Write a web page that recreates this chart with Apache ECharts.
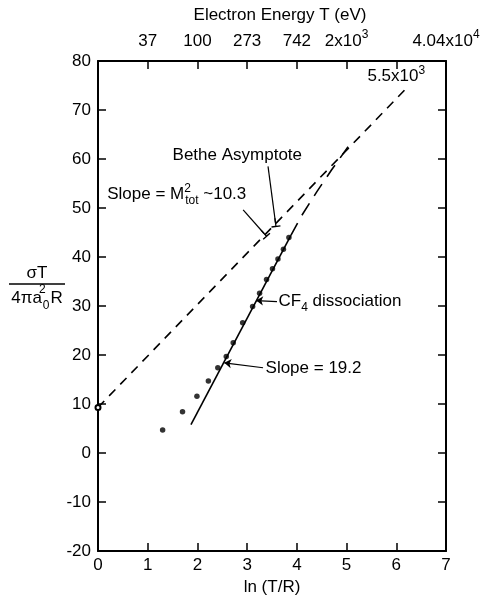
<!DOCTYPE html>
<html>
<head>
<meta charset="utf-8">
<title>CF4 dissociation - Fano plot</title>
<script src="https://cdn.jsdelivr.net/npm/echarts@6/dist/echarts.min.js"></script>
<style>
  html, body { margin: 0; padding: 0; background: #fff; }
  #chart { width: 491px; height: 601px; }
</style>
</head>
<body>
<div id="chart"></div>
<script>
// measured data points (ln(T/R), sigma*T / 4 pi a0^2 R)
const dotX = [1.30, 1.70, 1.99, 2.22, 2.41, 2.58, 2.72, 2.91, 3.11, 3.25, 3.39, 3.51, 3.62, 3.73, 3.84];
const dotY = [4.7, 8.4, 11.6, 14.7, 17.4, 19.7, 22.5, 26.6, 29.9, 32.6, 35.4, 37.6, 39.6, 41.6, 44.0];

// Bethe asymptote (dashed)
const betheX = [0, 6.21];
const betheY = [9.3, 74.5];

// slope 19.2 fit, solid part and dashed continuation
const fitSolidX = [1.87, 3.88];
const fitSolidY = [5.8, 44.4];
const fitDashX = [3.88, 4.1, 4.4, 4.7, 5.03];
const fitDashY = [44.4, 48.5, 53.3, 57.8, 62.5];

// tick labels
const bottomTickLabels = ['0', '1', '2', '3', '4', '5', '6', '7'];
const topTickLabels = ['', '37', '100', '273', '742', '2x10^3', '', '4.04x10^4'];
const yTicks = [-20, -10, 0, 10, 20, 30, 40, 50, 60, 70, 80];

const FONT = '"Liberation Sans", Arial, Helvetica, sans-serif';
const FS = 17;

function zip(xs, ys) {
    return xs.map((x, i) => [x, ys[i]]);
}

// text styles for rich labels (super/subscripts)
const rich = {
    t:    { fontSize: FS, fontFamily: FONT, color: '#000', lineHeight: 24 },
    sup:  { fontSize: 12, fontFamily: FONT, color: '#000', lineHeight: 12, verticalAlign: 'top' },
    supz: { fontSize: 12, fontFamily: FONT, color: '#000', lineHeight: 12, verticalAlign: 'top', width: 1 },
    sub:  { fontSize: 12, fontFamily: FONT, color: '#000', lineHeight: 12, verticalAlign: 'bottom' }
};

// "2x10^3" -> rich text with superscript
function supText(s) {
    if (!s) return '';
    const parts = s.split('^');
    if (parts.length === 1) return '{t|' + s + '}';
    return '{t|' + parts[0] + '}{sup|' + parts[1] + '}';
}

// annotations: text, anchor (data coords), label placement
const notes = [
    { text: '{t|Bethe Asymptote}', at: [1.49, 60.7], pos: 'right' },
    { text: '{t|Slope = M}{supz|2}{sub|tot}{t| ~10.3}', at: [0.175, 52.7], pos: 'right' },
    { text: '{t|CF}{sub|4}{t| dissociation}', at: [3.62, 30.9], pos: 'right' },
    { text: '{t|Slope = 19.2}', at: [3.36, 17.2], pos: 'right' },
    { text: '{t|5.5x10}{sup|3}', at: [6.0, 76.8], pos: 'inside' }
];

// arrows from the texts to the lines
const TBAR = 'path://M0,0 L10,0 L10,1.6 L5.7,1.6 L5.7,10 L4.3,10 L4.3,1.6 L0,1.6 Z';
const arrows = [
    { from: [3.42, 58.5], to: [3.57, 47.0], head: TBAR },
    { from: [2.92, 49.6], to: [3.34, 44.8], head: TBAR },
    { from: [3.60, 30.9], to: [3.18, 31.1], head: 'arrow' },
    { from: [3.32, 17.4], to: [2.54, 18.4], head: 'arrow' }
];

const chart = echarts.init(document.getElementById('chart'), null, { renderer: 'canvas' });

const axisLineStyle = { color: '#000', width: 2 };
const tickStyle = { color: '#000', width: 1.5 };

const option = {
    animation: false,
    backgroundColor: '#fff',
    grid: { left: 98, right: 45, top: 61, bottom: 43, containLabel: false },
    xAxis: [
        {
            type: 'value', position: 'bottom', min: 0, max: 7, interval: 1,
            name: 'ln (T/R)', nameLocation: 'middle', nameGap: 28,
            nameTextStyle: { fontSize: FS, fontFamily: FONT, color: '#000' },
            axisLine: { show: true, onZero: false, lineStyle: axisLineStyle },
            axisTick: { inside: true, length: 8, lineStyle: tickStyle },
            axisLabel: {
                margin: 6, fontSize: FS, fontFamily: FONT, color: '#000',
                formatter: v => bottomTickLabels[Math.round(v)]
            },
            splitLine: { show: false }
        },
        {
            type: 'value', position: 'top', min: 0, max: 7, interval: 1,
            name: 'Electron Energy T (eV)', nameLocation: 'middle', nameGap: 32,
            nameTextStyle: { fontSize: FS, fontFamily: FONT, color: '#000', padding: [0, 0, 0, 16] },
            axisLine: { show: true, onZero: false, lineStyle: axisLineStyle },
            axisTick: { inside: true, length: 8, lineStyle: tickStyle },
            axisLabel: {
                margin: 8, fontSize: FS, fontFamily: FONT, color: '#000',
                formatter: v => supText(topTickLabels[Math.round(v)]),
                rich: rich
            },
            splitLine: { show: false }
        }
    ],
    yAxis: [
        {
            type: 'value', position: 'left', min: -20, max: 80, interval: 10,
            axisLine: { show: true, onZero: false, lineStyle: axisLineStyle },
            axisTick: { show: true, inside: true, length: 8, lineStyle: tickStyle },
            axisLabel: {
                margin: 7, fontSize: FS, fontFamily: FONT, color: '#000',
                formatter: v => (yTicks.indexOf(v) >= 0 ? String(v) : '')
            },
            splitLine: { show: false }
        },
        {
            type: 'value', position: 'right', min: -20, max: 80, interval: 10,
            axisLine: { show: true, onZero: false, lineStyle: axisLineStyle },
            axisTick: { show: true, inside: true, length: 8, lineStyle: tickStyle },
            axisLabel: { show: false },
            splitLine: { show: false }
        }
    ],
    graphic: [
        {
            type: 'text', x: 37, y: 287,
            style: {
                text: '{n|σT}\n{hr|}\n{d|4πa}{supz|2}{sub|0}{d|R}',
                align: 'center', verticalAlign: 'middle',
                rich: {
                    n: { fontSize: FS, fontFamily: FONT, color: '#000', lineHeight: 22, align: 'center' },
                    hr: { width: 56, height: 0, borderWidth: 1, borderColor: '#000', align: 'center' },
                    d: { fontSize: FS, fontFamily: FONT, color: '#000', lineHeight: 28 },
                    supz: { fontSize: 12, fontFamily: FONT, color: '#000', lineHeight: 12, verticalAlign: 'top', width: 1 },
                    sub: { fontSize: 12, fontFamily: FONT, color: '#000', lineHeight: 12, verticalAlign: 'bottom', padding: [0, 1, 0, 0] }
                }
            }
        }
    ],
    series: [
        {
            name: 'Bethe asymptote', type: 'line',
            data: zip(betheX, betheY).map((p, i) => i === 0
                ? { value: p, symbol: 'emptyCircle', symbolSize: 5 }
                : { value: p, symbol: 'none' }),
            itemStyle: { color: '#000', borderWidth: 1.2 },
            lineStyle: { color: '#000', width: 1.6, type: [9, 7] }
        },
        {
            name: 'Slope 19.2', type: 'line', symbol: 'none',
            data: zip(fitSolidX, fitSolidY),
            lineStyle: { color: '#000', width: 1.6 }
        },
        {
            name: 'Slope 19.2 ext', type: 'line', symbol: 'none',
            data: zip(fitDashX, fitDashY),
            lineStyle: { color: '#000', width: 1.6, type: [14, 9] }
        },
        {
            name: 'CF4 dissociation', type: 'scatter', symbol: 'circle', symbolSize: 5.5,
            data: zip(dotX, dotY),
            itemStyle: { color: '#000' },
            z: 5
        },
        {
            name: 'notes', type: 'scatter', symbolSize: 1, silent: true,
            itemStyle: { color: '#fff', opacity: 1 },
            data: notes.map(n => ({
                value: n.at,
                label: {
                    show: true, position: n.pos, distance: 0,
                    color: '#000', opacity: 1,
                    formatter: n.text, rich: rich
                }
            })),
            markLine: {
                silent: true, animation: false,
                symbol: ['none', 'arrow'], symbolSize: 8,
                label: { show: false },
                lineStyle: { color: '#000', width: 1.2, type: 'solid' },
                data: arrows.map(a => [
                    { coord: a.from, symbol: 'none' },
                    { coord: a.to, symbol: a.head, symbolSize: a.head === 'arrow' ? 7 : 9 }
                ])
            }
        }
    ]
};

chart.setOption(option);
</script>
</body>
</html>
